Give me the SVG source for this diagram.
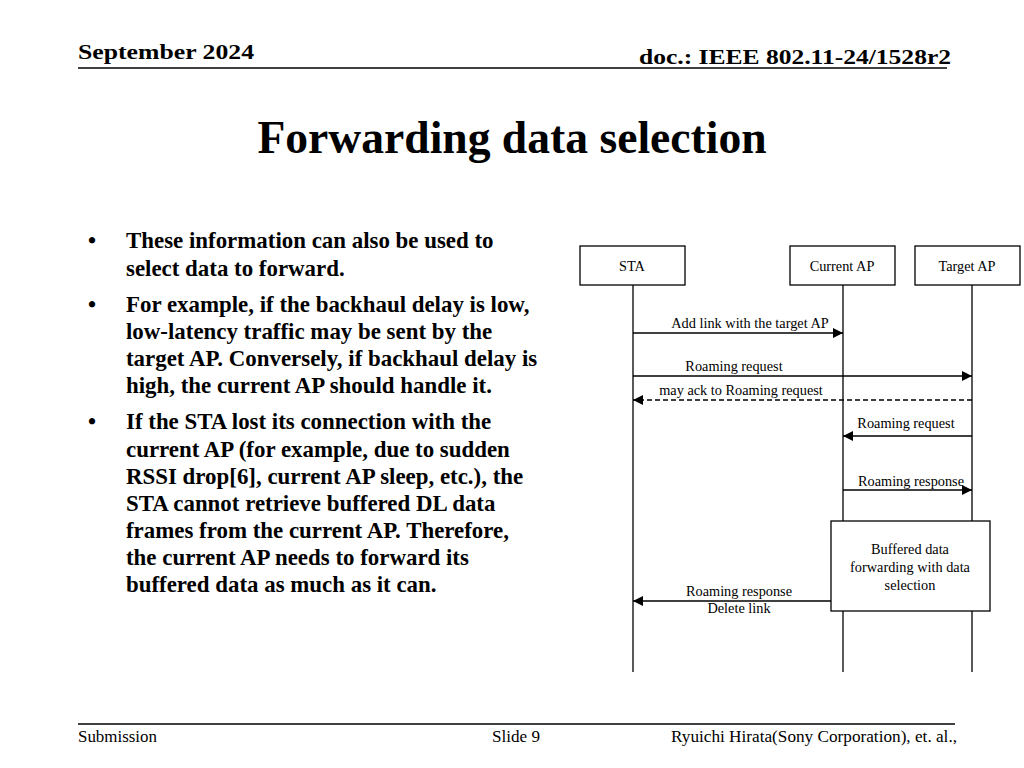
<svg xmlns="http://www.w3.org/2000/svg" width="1024" height="768" viewBox="0 0 1024 768">
<style>
text{font-family:"Liberation Serif","Times New Roman",serif;fill:#000}
.b{font-weight:bold}
.hd{font-size:21px;font-weight:bold}
.body{font-size:22.9px;font-weight:bold}
.lbl{font-size:14.3px;text-anchor:middle}
.box{fill:#fff;stroke:#000;stroke-width:1.3}
.life{stroke:#000;stroke-width:1.3;fill:none}
.msg{stroke:#000;stroke-width:1.3;fill:none;marker-end:url(#ah)}
.dash{stroke-dasharray:5,3}
</style>
<defs>
<marker id="ah" viewBox="0 0 10 10" refX="10" refY="5" markerWidth="10" markerHeight="10" markerUnits="userSpaceOnUse" orient="auto">
<path d="M0,0 L10,5 L0,10 z" fill="#000"/>
</marker>
</defs>
<rect width="1024" height="768" fill="#fff"/>
<g id="header">
<text class="hd" x="78" y="59" textLength="176" lengthAdjust="spacingAndGlyphs">September 2024</text>
<text class="hd" x="951" y="64" text-anchor="end" textLength="312" lengthAdjust="spacingAndGlyphs">doc.: IEEE 802.11-24/1528r2</text>
<line x1="78" y1="68" x2="947" y2="68" stroke="#000" stroke-width="1.5"/>
</g>
<text id="title" class="b" x="512" y="153" font-size="45.6" text-anchor="middle">Forwarding data selection</text>
<g id="bullets" class="body">
<text x="88" y="248">•</text>
<text x="126" y="248">These information can also be used to</text>
<text x="126" y="276">select data to forward.</text>
<text x="88" y="312">•</text>
<text x="126" y="312">For example, if the backhaul delay is low,</text>
<text x="126" y="339">low-latency traffic may be sent by the</text>
<text x="126" y="366">target AP. Conversely, if backhaul delay is</text>
<text x="126" y="393">high, the current AP should handle it.</text>
<text x="88" y="429">•</text>
<text x="126" y="429">If the STA lost its connection with the</text>
<text x="126" y="457">current AP (for example, due to sudden</text>
<text x="126" y="484">RSSI drop[6], current AP sleep, etc.), the</text>
<text x="126" y="511">STA cannot retrieve buffered DL data</text>
<text x="126" y="538">frames from the current AP. Therefore,</text>
<text x="126" y="565">the current AP needs to forward its</text>
<text x="126" y="592">buffered data as much as it can.</text>
</g>
<g id="lifelines">
<line class="life" x1="633" y1="285" x2="633" y2="672" stroke="#555"/>
<line class="life" x1="843" y1="285" x2="843" y2="672"/>
<line class="life" x1="972" y1="285" x2="972" y2="672"/>
</g>
<g id="sta">
<rect class="box" x="580" y="246" width="105" height="39"/>
<text class="lbl" x="632" y="271">STA</text>
</g>
<g id="current-ap">
<rect class="box" x="790" y="246" width="105" height="39"/>
<text class="lbl" x="842" y="271">Current AP</text>
</g>
<g id="target-ap">
<rect class="box" x="915" y="246" width="105" height="39"/>
<text class="lbl" x="967" y="271">Target AP</text>
</g>
<g id="connectors">
<line class="msg" x1="633" y1="333" x2="843" y2="333"/>
<text class="lbl" x="750" y="328">Add link with the target AP</text>
<line class="msg" x1="633" y1="376" x2="972" y2="376"/>
<text class="lbl" x="734" y="371">Roaming request</text>
<line class="msg dash" x1="972" y1="400" x2="633" y2="400"/>
<text class="lbl" x="741" y="395">may ack to Roaming request</text>
<line class="msg" x1="972" y1="436" x2="843" y2="436"/>
<text class="lbl" x="906" y="428">Roaming request</text>
<line class="msg" x1="843" y1="490" x2="972" y2="490"/>
<text class="lbl" x="911" y="486">Roaming response</text>
<line class="msg" x1="831" y1="601" x2="633" y2="601"/>
<text class="lbl" x="739" y="596">Roaming response</text>
<text class="lbl" x="739" y="613">Delete link</text>
</g>
<g id="buffered">
<rect class="box" x="831" y="521" width="159" height="90"/>
<text class="lbl" x="910" y="554">Buffered data</text>
<text class="lbl" x="910" y="572">forwarding with data</text>
<text class="lbl" x="910" y="590">selection</text>
</g>
<g id="footer">
<line x1="78" y1="724" x2="955" y2="724" stroke="#000" stroke-width="1.5"/>
<text x="78" y="742" font-size="16" textLength="79" lengthAdjust="spacingAndGlyphs">Submission</text>
<text x="492" y="742" font-size="16" textLength="48" lengthAdjust="spacingAndGlyphs">Slide 9</text>
<text x="957" y="742" font-size="16" text-anchor="end" textLength="286" lengthAdjust="spacingAndGlyphs">Ryuichi Hirata(Sony Corporation), et. al.,</text>
</g>
</svg>
